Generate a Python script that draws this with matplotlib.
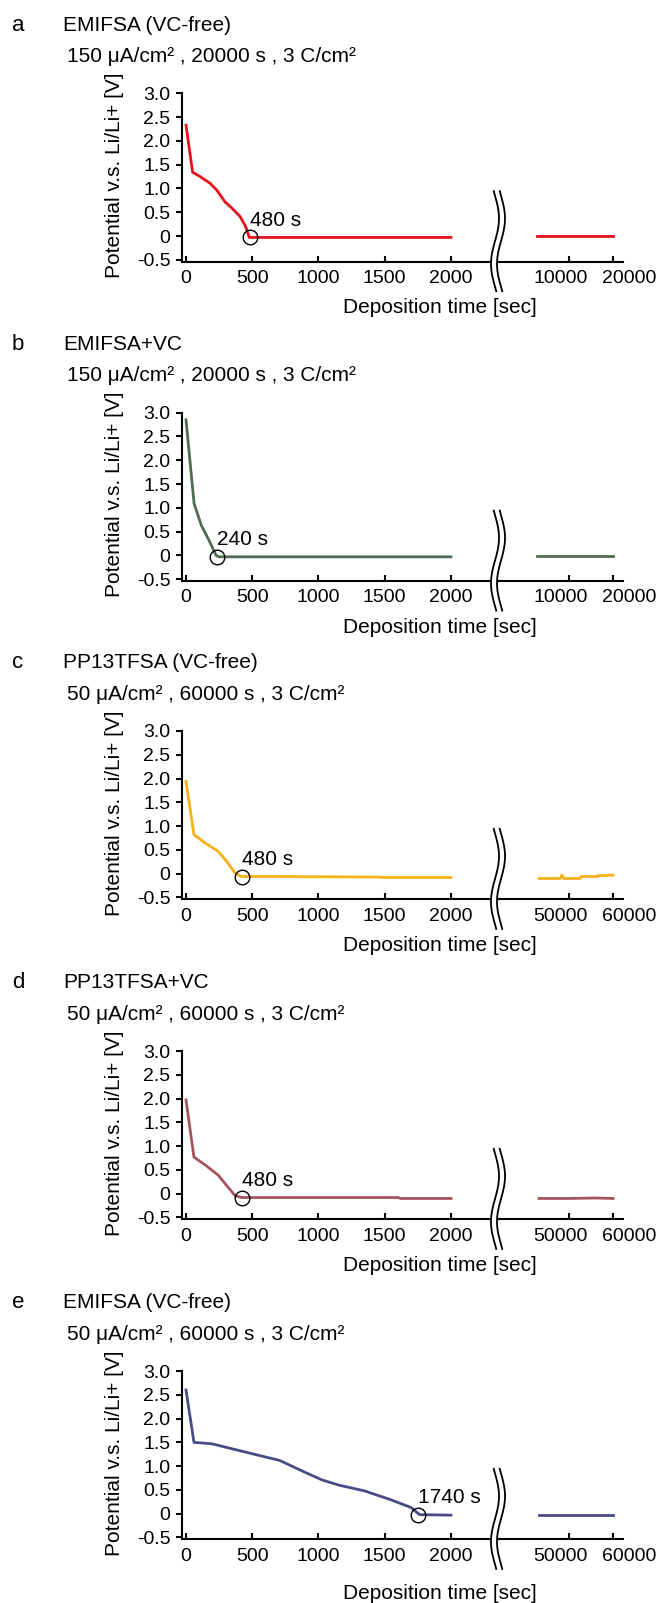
import matplotlib.pyplot as plt
import numpy as np

plt.rcParams['font.family'] = ['Liberation Sans', 'DejaVu Sans']

W, H = 662, 1603

letters = ['a', 'b', 'c', 'd', 'e']
titles = ['EMIFSA (VC-free)', 'EMIFSA+VC', 'PP13TFSA (VC-free)', 'PP13TFSA+VC', 'EMIFSA (VC-free)']
conditions = ['150 μA/cm² , 20000 s , 3 C/cm²',
              '150 μA/cm² , 20000 s , 3 C/cm²',
              '50 μA/cm² , 60000 s , 3 C/cm²',
              '50 μA/cm² , 60000 s , 3 C/cm²',
              '50 μA/cm² , 60000 s , 3 C/cm²']
colors = ['#e3121c', '#4f6b55', '#f5b11a', '#a3545e', '#4a4a88']

left_ticks = [0, 500, 1000, 1500, 2000]
right_ticks = [[10000, 20000], [10000, 20000], [50000, 60000], [50000, 60000], [50000, 60000]]
y_ticks = [-0.5, 0, 0.5, 1.0, 1.5, 2.0, 2.5, 3.0]
y_labels = ['-0.5', '0', '0.5', '1.0', '1.5', '2.0', '2.5', '3.0']

# early part of each curve (0-2000 s)
a_t = [0, 50, 106, 181, 231, 294, 345, 408, 450, 478, 2000]
a_v = [2.33, 1.34, 1.25, 1.11, 0.97, 0.72, 0.59, 0.41, 0.2, -0.03, -0.03]
b_t = [0, 61, 116, 173, 227, 250, 2000]
b_v = [2.85, 1.09, 0.63, 0.32, 0.0, -0.03, -0.03]
c_t = [0, 60, 147, 243, 307, 371, 419, 700, 1450, 1500, 2000]
c_v = [1.94, 0.82, 0.64, 0.47, 0.26, 0.01, -0.06, -0.06, -0.07, -0.08, -0.08]
d_t = [0, 60, 147, 243, 307, 371, 419, 1600, 1620, 2000]
d_v = [1.97, 0.77, 0.6, 0.39, 0.17, -0.04, -0.08, -0.08, -0.1, -0.1]
e_t = [0, 60, 195, 355, 515, 707, 899, 1027, 1155, 1347, 1539, 1699, 1763, 2000]
e_v = [2.6, 1.5, 1.47, 1.36, 1.25, 1.12, 0.87, 0.71, 0.6, 0.48, 0.3, 0.13, -0.02, -0.03]

# long-time part (after the axis break)
a_rt = [2700, 20000]
a_rv = [-0.01, -0.01]
b_rt = [2700, 20000]
b_rv = [-0.02, -0.02]
c_rt = [43200, 48000, 48400, 48800, 52600, 52700, 56500, 56600, 60000]
c_rv = [-0.1, -0.1, -0.03, -0.1, -0.1, -0.06, -0.06, -0.04, -0.03]
d_rt = [43200, 50000, 56000, 60000]
d_rv = [-0.1, -0.1, -0.09, -0.1]
e_rt = [43200, 60000]
e_rv = [-0.03, -0.03]

early_t = [a_t, b_t, c_t, d_t, e_t]
early_v = [a_v, b_v, c_v, d_v, e_v]
late_t = [a_rt, b_rt, c_rt, d_rt, e_rt]
late_v = [a_rv, b_rv, c_rv, d_rv, e_rv]

mark_t = [480, 235, 425, 425, 1750]
mark_v = [-0.03, -0.03, -0.07, -0.09, -0.02]
mark_labels = ['480 s', '240 s', '480 s', '480 s', '1740 s']

# layout in pixels
panel_top = [93.3, 412.7, 731, 1051, 1371]
ax_h = 168.4
x_spine, x_break, x_end = 181.7, 498, 623
xlabel_gap = [46, 46, 46, 46, 54]
right_label_dx = [-6, 11.5]   # points, labels sit off their ticks in the original

fig = plt.figure(figsize=(W / 100, H / 100), dpi=100)

for i in range(5):
    top = panel_top[i]
    bottom = 1 - (top + ax_h) / H
    axl = fig.add_axes([x_spine / W, bottom, (x_break - x_spine) / W, ax_h / H])
    axr = fig.add_axes([x_break / W, bottom, (x_end - x_break) / W, ax_h / H])

    axl.plot(early_t[i], early_v[i], color=colors[i], lw=2)
    axr.plot(late_t[i], late_v[i], color=colors[i], lw=2)
    axl.plot(mark_t[i], mark_v[i], 'o', ms=10.5, mfc='none', mec='black', mew=1.0)
    axl.annotate(mark_labels[i], (mark_t[i], mark_v[i]), xytext=(0, 12.5),
                 textcoords='offset points', ha='left', va='center', fontsize=15)

    axl.set_xlim(-32.5, 2355)
    t1, t2 = right_ticks[i]
    axr.set_xlim(t1 - 71 / 44 * (t2 - t1), t1 + 54 / 44 * (t2 - t1))
    for ax in (axl, axr):
        ax.set_ylim(-0.54, 3.0)
        ax.spines['top'].set_visible(False)
        ax.spines['right'].set_visible(False)
        ax.spines['bottom'].set_linewidth(1.5)
        ax.spines['left'].set_linewidth(1.5)
        ax.patch.set_visible(False)
        ax.tick_params(axis='x', direction='in', length=4, width=1.5, pad=6, labelsize=14)
        ax.tick_params(axis='y', direction='out', length=4, width=1.5, pad=4, labelsize=14)
    axl.set_xticks(left_ticks)
    axr.set_xticks(right_ticks[i])
    axr.set_xticklabels(['', ''])
    for t, dx in zip(right_ticks[i], right_label_dx):
        axr.annotate(str(t), xy=(t, 0), xycoords=('data', 'axes fraction'),
                     xytext=(dx, -6), textcoords='offset points',
                     ha='center', va='top', fontsize=14, annotation_clip=False)
    axl.set_yticks(y_ticks)
    axl.set_yticklabels(y_labels)
    axr.spines['left'].set_visible(False)
    axr.set_yticks([])

# overlay for text and break marks, in pixel coordinates
ov = fig.add_axes([0, 0, 1, 1])
ov.set_xlim(0, W)
ov.set_ylim(H, 0)
ov.axis('off')

for i in range(5):
    top = panel_top[i]
    axis_y = top + ax_h
    ov.text(18, top - 68, letters[i], fontsize=16, ha='center', va='center')
    ov.text(63, top - 68, titles[i], fontsize=15, ha='left', va='center')
    ov.text(67, top - 37, conditions[i], fontsize=15, ha='left', va='center')
    ov.text(115, top + 82, 'Potential v.s. Li/Li+ [V]', fontsize=15, rotation=90,
            ha='center', va='center')
    ov.text(440, axis_y + xlabel_gap[i], 'Deposition time [sec]', fontsize=15,
            ha='center', va='center')

    s = np.linspace(-0.05, 1.05, 80)
    yy = axis_y - 66 + s * 91
    xx = x_break + 4 * np.sin(2 * np.pi * s)
    ov.fill_betweenx(yy, xx - 3, xx + 3, color='white', lw=0, zorder=5)
    ov.plot(xx - 3, yy, color='black', lw=1.3, zorder=6)
    ov.plot(xx + 3, yy, color='black', lw=1.3, zorder=6)

fig.savefig('out.png', dpi=100)
